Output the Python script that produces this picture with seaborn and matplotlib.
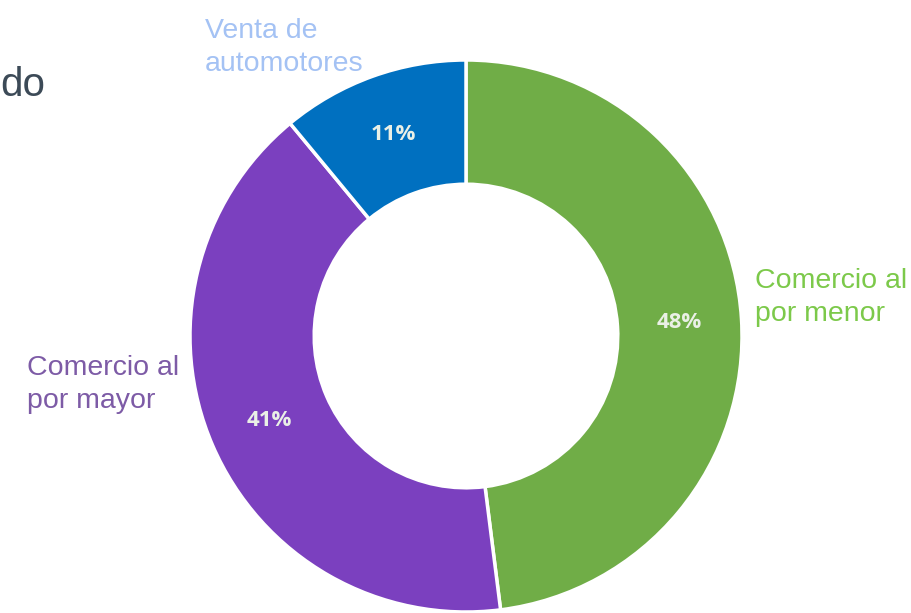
import matplotlib
matplotlib.use("Agg")
import matplotlib.pyplot as plt
import seaborn as sns
import numpy as np

# data
categories = ["Comercio al\npor menor", "Comercio al\npor mayor", "Venta de\nautomotores"]
shares = [48, 41, 11]
slice_colors = ["#70AD47", "#7B40BF", "#0070C0"]
label_colors = ["#7CC94A", "#7D5BA6", "#A4C2F4"]

sns.set_theme(style="white")
plt.rcParams['font.family'] = ['Liberation Sans', 'DejaVu Sans']

fig = plt.figure(figsize=(9.11, 6.13), dpi=100)
W, H = 911, 613
cx, cy, r = 466, 336, 276
ax = fig.add_axes([(cx - r) / W, (H - cy - r) / H, 2 * r / W, 2 * r / H])

wedges, texts = ax.pie(shares, colors=slice_colors, startangle=90, counterclock=False,
                       radius=1.0, wedgeprops=dict(width=0.45, edgecolor="white", linewidth=2.5))
ax.set_xlim(-1, 1)
ax.set_ylim(-1, 1)
ax.set_aspect("equal")
ax.axis("off")

# percent labels in the middle of the ring
start = 90.0
for val in shares:
    mid = np.deg2rad(start - val * 3.6 / 2)
    ax.text(0.775 * np.cos(mid), 0.775 * np.sin(mid), f"{val}%", ha="center", va="center",
            fontsize=16, fontweight="bold", color="#EAF0E6", family=["Open Sans", "DejaVu Sans"])
    start -= val * 3.6

# outside category labels (y = baseline of the last line)
label_pos = [(755, 321), (27, 408), (205, 71)]
for cat, col, (px, py) in zip(categories, label_colors, label_pos):
    fig.text(px / W, 1 - py / H, cat, ha="left", va="baseline", fontsize=20.5,
             color=col, linespacing=1.37)

# clipped title fragment
fig.text(0 / W, 1 - 96 / H, "do", ha="left", va="baseline", fontsize=29, color="#3C4A57")

fig.savefig("out.png", dpi=100)
